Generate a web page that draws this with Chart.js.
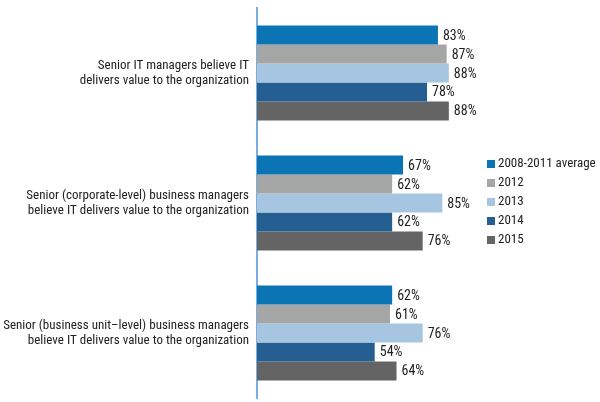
<!DOCTYPE html>
<html>
<head>
<meta charset="utf-8">
<script src="https://cdn.jsdelivr.net/npm/chart.js@4"></script>
<style>
  html, body { margin: 0; padding: 0; background: #ffffff; }
  #wrap { width: 600px; height: 402px; position: relative; }
</style>
</head>
<body>
<div id="wrap"><canvas id="bar-chart"></canvas></div>
<script>
'use strict';

var CATEGORIES = [
  ['Senior IT managers believe IT', 'delivers value to the organization'],
  ['Senior (corporate-level) business managers', 'believe IT delivers value to the organization'],
  ['Senior (business unit\u2013level) business managers', 'believe IT delivers value to the organization'],
];

var SERIES_NAMES = ['2008-2011 average', '2012', '2013', '2014', '2015'];

var AVG_0811 = [83, 67, 62];
var Y2012    = [87, 62, 61];
var Y2013    = [88, 85, 76];
var Y2014    = [78, 62, 54];
var Y2015    = [88, 76, 64];

var BAR_COLORS = ['#0a74b4', '#a5a6a6', '#a6c5e0', '#255f91', '#636463'];

var FONT = "'Roboto Condensed', 'Liberation Sans Narrow', 'Arial Narrow', Roboto, sans-serif";

var valueLabels = {
  id: 'valueLabels',
  afterDatasetsDraw: function(chart) {
    var ctx = chart.ctx;
    ctx.save();
    ctx.font = '14px ' + FONT;
    ctx.fillStyle = '#222222';
    ctx.textAlign = 'left';
    ctx.textBaseline = 'middle';
    chart.data.datasets.forEach(function(ds, i) {
      chart.getDatasetMeta(i).data.forEach(function(bar, j) {
        ctx.fillText(ds.data[j] + '%', bar.x + 5, bar.y + 1);
      });
    });
    ctx.restore();
  },
};

var sideLegend = {
  id: 'sideLegend',
  afterDraw: function(chart) {
    var ctx = chart.ctx;
    ctx.save();
    ctx.font = '13px ' + FONT;
    ctx.textAlign = 'left';
    ctx.textBaseline = 'middle';
    chart.data.datasets.forEach(function(ds, i) {
      var y = 164 + i * 19;
      ctx.fillStyle = ds.backgroundColor;
      ctx.fillRect(487, y - 4, 8, 8);
      ctx.fillStyle = '#222222';
      ctx.fillText(ds.label, 498, y);
    });
    ctx.restore();
  },
};

var seriesData = [AVG_0811, Y2012, Y2013, Y2014, Y2015];

var ctx = document.getElementById('bar-chart').getContext('2d');

new Chart(ctx, {
  type: 'bar',
  data: {
    labels: CATEGORIES,
    datasets: SERIES_NAMES.map(function(name, i) {
      return {
        label:              name,
        data:               seriesData[i],
        backgroundColor:    BAR_COLORS[i],
        borderWidth:        0,
        categoryPercentage: 0.73,
        barPercentage:      1.0,
      };
    }),
  },
  options: {
    indexAxis:  'y',
    responsive: true,
    maintainAspectRatio: false,
    animation:  false,
    layout: { padding: { top: 8, bottom: 4, right: 125, left: 0 } },
    plugins: {
      legend:  { display: false },
      tooltip: { enabled: false },
    },
    scales: {
      x: {
        display: false,
        min: 0,
        max: 100,
      },
      y: {
        grid:   { display: false, drawTicks: false },
        border: { color: '#7aaee0', width: 2 },
        ticks:  { color: '#222222', padding: 8,
                  font: { size: 13, family: FONT, lineHeight: 1.15 } },
        afterFit: function(scale) {
          scale.width = 257;
          scale.paddingTop = 0;
          scale.paddingBottom = 0;
        },
      },
    },
  },
  plugins: [valueLabels, sideLegend],
});
</script>
</body>
</html>
